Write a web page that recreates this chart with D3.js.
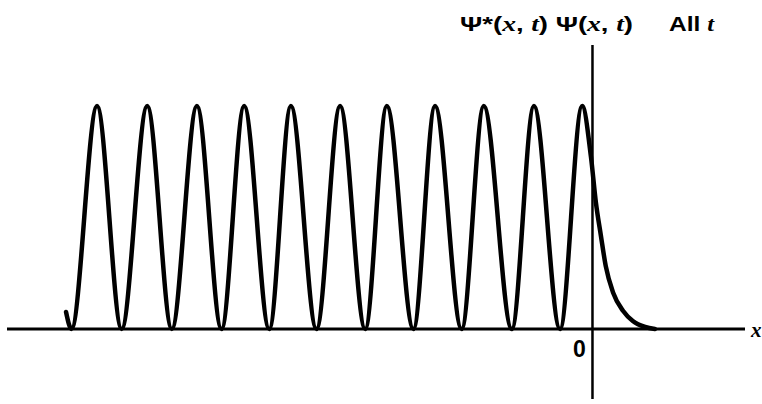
<!DOCTYPE html>
<html>
<head>
<meta charset="utf-8">
<script src="https://cdn.jsdelivr.net/npm/d3@7"></script>
<style>
  html, body { margin: 0; padding: 0; background: #fff; }
  svg { display: block; }
</style>
</head>
<body>
<div id="chart"></div>
<script>

// values (x in units of the oscillation period, y = |psi|^2 relative to peak)
var startPoint = [-10.70, 0.076];
var troughX = [-10.59, -9.57, -8.55, -7.54, -6.57, -5.61, -4.62, -3.64, -2.66, -1.64, -0.66];
var peakX = [-10.07, -9.05, -8.04, -7.08, -6.13, -5.13, -4.18, -3.20, -2.21, -1.19, -0.21];
var peakY = [1, 1, 1, 1, 1, 1, 1, 1, 1, 1, 1];
// decaying tail inside the barrier (x > 0)
var decayX = [-0.03, 0.07, 0.17, 0.27, 0.42, 0.62, 0.82, 1.07, 1.27];
var decayY = [0.77, 0.566, 0.42, 0.282, 0.163, 0.082, 0.036, 0.009, 0];

var titleText = "\u03A8*(x, t) \u03A8(x, t)";
var allText = "All t";

var width = 762, height = 404;

var svg = d3.select("#chart").append("svg")
    .attr("width", width)
    .attr("height", height);

var xScale = d3.scaleLinear().domain([-11.9, 3.1]).range([7, 745]);
var yScale = d3.scaleLinear().domain([0, 1]).range([329, 106]);

// build the curve points from the arrays
var points = [];
points.push({ x: startPoint[0], y: startPoint[1] });
for (var i = 0; i < troughX.length; i++) {
    points.push({ x: troughX[i], y: 0 });
    points.push({ x: peakX[i], y: peakY[i] });
}
decayX.forEach(function (d, i) {
    points.push({ x: d, y: decayY[i] });
});

// axes (plain lines, no ticks)
svg.append("line")
    .attr("x1", xScale.range()[0])
    .attr("x2", xScale.range()[1])
    .attr("y1", yScale(0))
    .attr("y2", yScale(0))
    .style("stroke", "#000")
    .style("stroke-width", 3);

svg.append("line")
    .attr("x1", xScale(0))
    .attr("x2", xScale(0))
    .attr("y1", 45)
    .attr("y2", 399)
    .style("stroke", "#000")
    .style("stroke-width", 2.5);

var lineGenerator = d3.line()
    .x(d => xScale(d.x))
    .y(d => yScale(d.y))
    .curve(d3.curveMonotoneX);

svg.append("path")
    .attr("d", lineGenerator(points))
    .style("fill", "none")
    .style("stroke", "#000")
    .style("stroke-width", 4.5)
    .style("stroke-linejoin", "round")
    .style("stroke-linecap", "round");

// labels
var sans = "'Liberation Sans', Arial, sans-serif";
var serif = "'Liberation Serif', 'Times New Roman', serif";

function addMath(x, y, len, str) {
    var t = svg.append("text")
        .attr("x", x)
        .attr("y", y)
        .attr("textLength", len)
        .attr("lengthAdjust", "spacingAndGlyphs")
        .style("font-family", sans)
        .style("font-weight", "bold")
        .style("font-size", "21px");
    // x and t set in italic serif, everything else upright
    str.split(/([xt])/).forEach(function (part) {
        if (part === "") return;
        var ts = t.append("tspan").text(part);
        if (part === "x" || part === "t") {
            ts.style("font-family", serif).style("font-style", "italic");
        }
    });
    return t;
}

addMath(460, 31, 173, titleText);
addMath(669, 31, 45, allText);

svg.append("text")
    .attr("x", xScale(0) - 13)
    .attr("y", 357)
    .attr("text-anchor", "middle")
    .style("font-family", sans)
    .style("font-weight", "bold")
    .style("font-size", "23px")
    .text("0");

svg.append("text")
    .attr("x", 751)
    .attr("y", 337)
    .style("font-family", serif)
    .style("font-weight", "bold")
    .style("font-style", "italic")
    .style("font-size", "21px")
    .text("x");

</script>
</body>
</html>
